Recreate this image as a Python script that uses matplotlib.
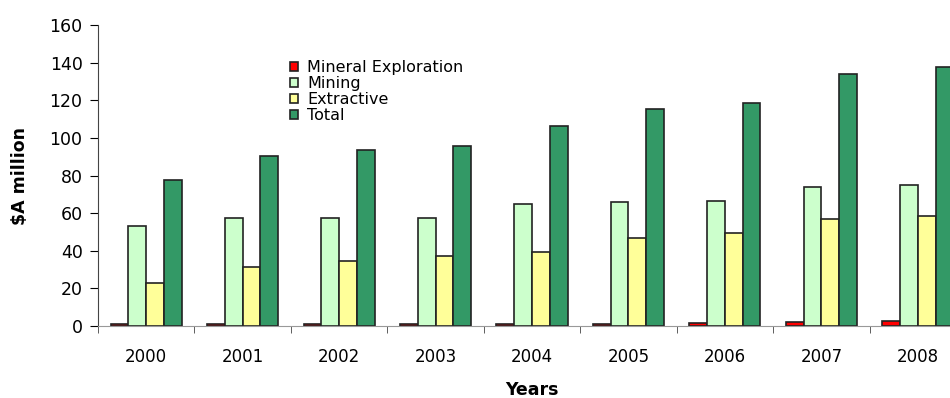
import numpy as np
import matplotlib.pyplot as plt

plt.rcParams['font.family'] = ['DejaVu Sans']

years = ['2000', '2001', '2002', '2003', '2004', '2005', '2006', '2007', '2008']
exploration = [1.0, 1.0, 1.0, 1.0, 1.0, 1.0, 1.7, 2.3, 2.5]
mining = [53, 57.5, 57.5, 57.5, 65, 66, 66.5, 73.7, 75]
extractive = [23, 31.5, 34.5, 37, 39.5, 47, 49.3, 57, 58.7]
total = [77.5, 90.5, 93.5, 95.5, 106.5, 115.5, 118.5, 134.2, 137.8]

series = [('Mineral Exploration', exploration, '#ff0000'),
          ('Mining', mining, '#ccffcc'),
          ('Extractive', extractive, '#ffff99'),
          ('Total', total, '#339966')]

fig = plt.figure(figsize=(9.5, 3.98), dpi=100)
# the plot area runs a little past the right edge of the figure
ax = fig.add_axes([0.103, 0.181, 0.914, 0.756])

x = np.arange(len(years))
w = 0.184
for i, (name, vals, col) in enumerate(series):
    ax.bar(x + (i - 1.5) * w, vals, w, color=col, edgecolor='#222222',
           linewidth=1.2, label=name, clip_on=False)

ax.set_xlim(-0.5, len(years) - 0.5)
ax.set_ylim(0, 160)
ax.set_yticks(range(0, 161, 20))
ax.set_xticks(x)
ax.set_xticklabels(years, fontsize=12)
ax.set_xticks(np.arange(-0.5, len(years)), minor=True)
ax.tick_params(axis='x', which='major', length=0, pad=16)
ax.tick_params(axis='x', which='minor', length=5, direction='out', color='#444444')
ax.tick_params(axis='y', labelsize=12.5, length=6, direction='out', pad=5)
for s in ['top', 'right']:
    ax.spines[s].set_visible(False)
ax.spines['bottom'].set_color('#999999')
ax.spines['left'].set_color('#444444')

ax.set_ylabel('$A million', fontsize=12.5, fontweight='bold', labelpad=15)
ax.set_xlabel('Years', fontsize=12.5, fontweight='bold', labelpad=11)

ax.legend(loc='upper left', bbox_to_anchor=(0.221, 0.883), frameon=False,
          fontsize=11.5, handlelength=0.5, handleheight=0.5, handletextpad=0.6,
          labelspacing=0.06, borderaxespad=0, borderpad=0)

plt.savefig('out.png', dpi=100)
